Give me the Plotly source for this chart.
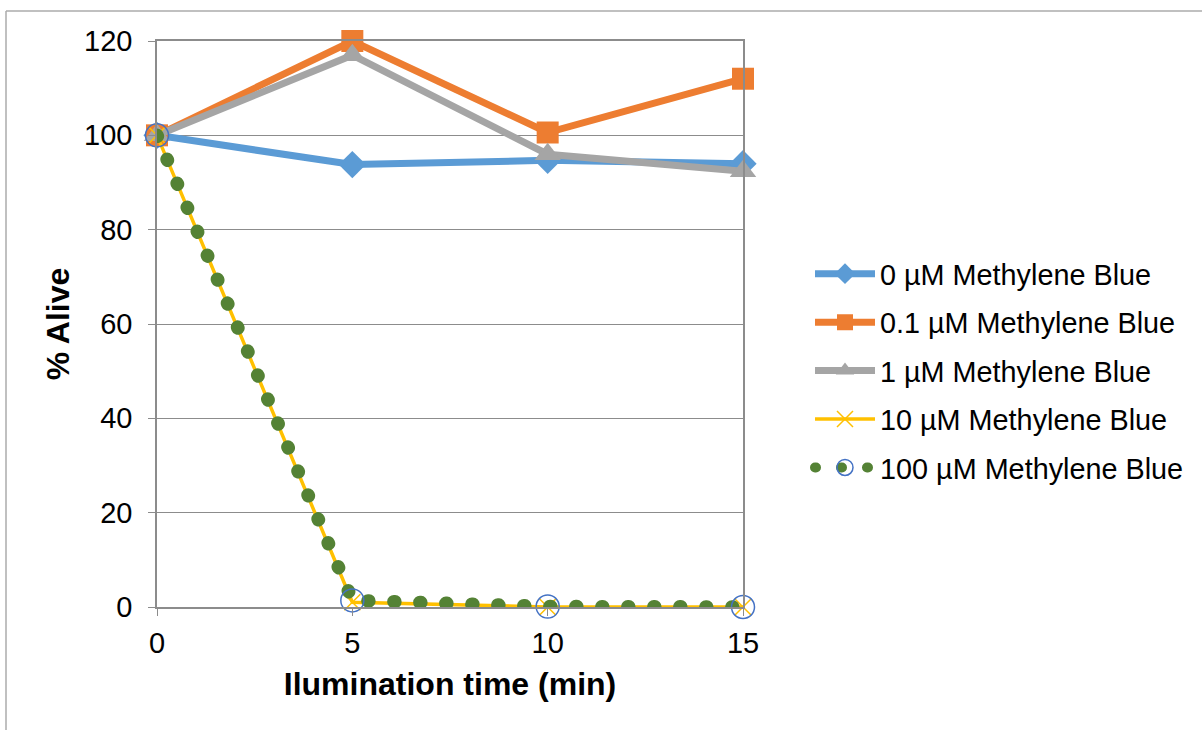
import plotly.graph_objects as go

time_min = [0, 5, 10, 15]
mb_0 = [100, 93.8, 94.7, 94.0]
mb_01 = [100, 120, 100.6, 112]
mb_1 = [100, 117, 96, 92.4]
mb_10 = [100, 1.0, 0, 0]
mb_100 = [100, 1.4, 0.1, 0]

names = ["0 µM Methylene Blue", "0.1 µM Methylene Blue", "1 µM Methylene Blue",
         "10 µM Methylene Blue", "100 µM Methylene Blue"]

FONT = "Liberation Sans, Arial, sans-serif"
fig = go.Figure()

fig.add_trace(go.Scatter(x=time_min, y=mb_0, name=names[0], mode="lines+markers", legendgroup="a",
                         cliponaxis=False,
                         line=dict(color="#5B9BD5", width=7),
                         marker=dict(symbol="diamond", size=21, color="#5B9BD5")))
fig.add_trace(go.Scatter(x=time_min, y=mb_01, name=names[1], mode="lines+markers", legendgroup="b",
                         cliponaxis=False,
                         line=dict(color="#ED7D31", width=7),
                         marker=dict(symbol="square", size=22, color="#ED7D31")))
fig.add_trace(go.Scatter(x=time_min, y=mb_1, name=names[2], mode="lines+markers", legendgroup="c",
                         cliponaxis=False,
                         line=dict(color="#A5A5A5", width=7),
                         marker=dict(symbol="triangle-up", size=23, color="#A5A5A5")))
fig.add_trace(go.Scatter(x=time_min, y=mb_10, name=names[3], mode="lines+markers", legendgroup="d",
                         cliponaxis=False,
                         line=dict(color="#FFC000", width=3.5),
                         marker=dict(symbol="x-thin", size=16, color="#FFC000",
                                     line=dict(color="#FFC000", width=1.5))))
fig.add_trace(go.Scatter(x=time_min, y=mb_100, name=names[4], mode="lines+markers", legendgroup="e",
                         cliponaxis=False,
                         line=dict(color="#548235", width=13.5, dash="1px,25px"),
                         marker=dict(symbol="circle-open", size=23, color="#4472C4",
                                     line=dict(color="#4472C4", width=1.5))))

# outer chart-area border (cropped at right/bottom)
L, R, T, B = 157, 743, 41, 607
pw, ph = R - L, B - T
def px(x):
    return (x - L) / pw
def py(y):
    return (B - y) / ph
fig.add_shape(type="line", xref="paper", yref="paper", x0=px(6), x1=px(1210), y0=py(11), y1=py(11),
              line=dict(color="#ABABAB", width=1.5), layer="below")
fig.add_shape(type="line", xref="paper", yref="paper", x0=px(6), x1=px(6), y0=py(11), y1=py(740),
              line=dict(color="#ABABAB", width=1.5), layer="below")

fig.update_layout(
    width=1202, height=730,
    margin=dict(l=L, r=1202 - R, t=T, b=730 - B),
    paper_bgcolor="white", plot_bgcolor="white",
    font=dict(family=FONT, size=29, color="black"),
    showlegend=True,
    legend=dict(x=px(810), y=py(371), xanchor="left", yanchor="middle",
                font=dict(size=28.8, family=FONT), tracegroupgap=8,
                itemwidth=60, bgcolor="rgba(0,0,0,0)"),
    xaxis=dict(range=[0, 15], tickvals=[0, 5, 10, 15], showgrid=False, zeroline=False,
               showline=True, linecolor="#8C8C8C", linewidth=1.5, mirror=True,
               ticks="outside", ticklen=7, tickcolor="#8C8C8C", ticklabelstandoff=2,
               title=dict(text="<b>Ilumination time (min)</b>", font=dict(size=32), standoff=15),
               tickfont=dict(size=29)),
    yaxis=dict(range=[0, 120], tickvals=[0, 20, 40, 60, 80, 100, 120], showgrid=True,
               gridcolor="#8C8C8C", gridwidth=1, zeroline=False,
               showline=True, linecolor="#8C8C8C", linewidth=1.5, mirror=True,
               ticks="outside", ticklen=7, tickcolor="#8C8C8C", ticklabelstandoff=10,
               title=dict(text="<b>% Alive</b>", font=dict(size=32), standoff=5),
               tickfont=dict(size=29)),
)

post = """
function roundDots(){
  var paths = document.querySelectorAll('path.js-line, g.legendlines path');
  paths.forEach(function(p){
    var da = p.style.strokeDasharray || p.getAttribute('stroke-dasharray') || '';
    if (da && da.indexOf('25') >= 0) { p.style.strokeLinecap = 'round'; }
  });
}
roundDots();
var gd = document.getElementsByClassName('plotly-graph-div')[0];
if (gd && gd.on) { gd.on('plotly_afterplot', roundDots); }
"""
fig.write_html("out.html", post_script=post)
